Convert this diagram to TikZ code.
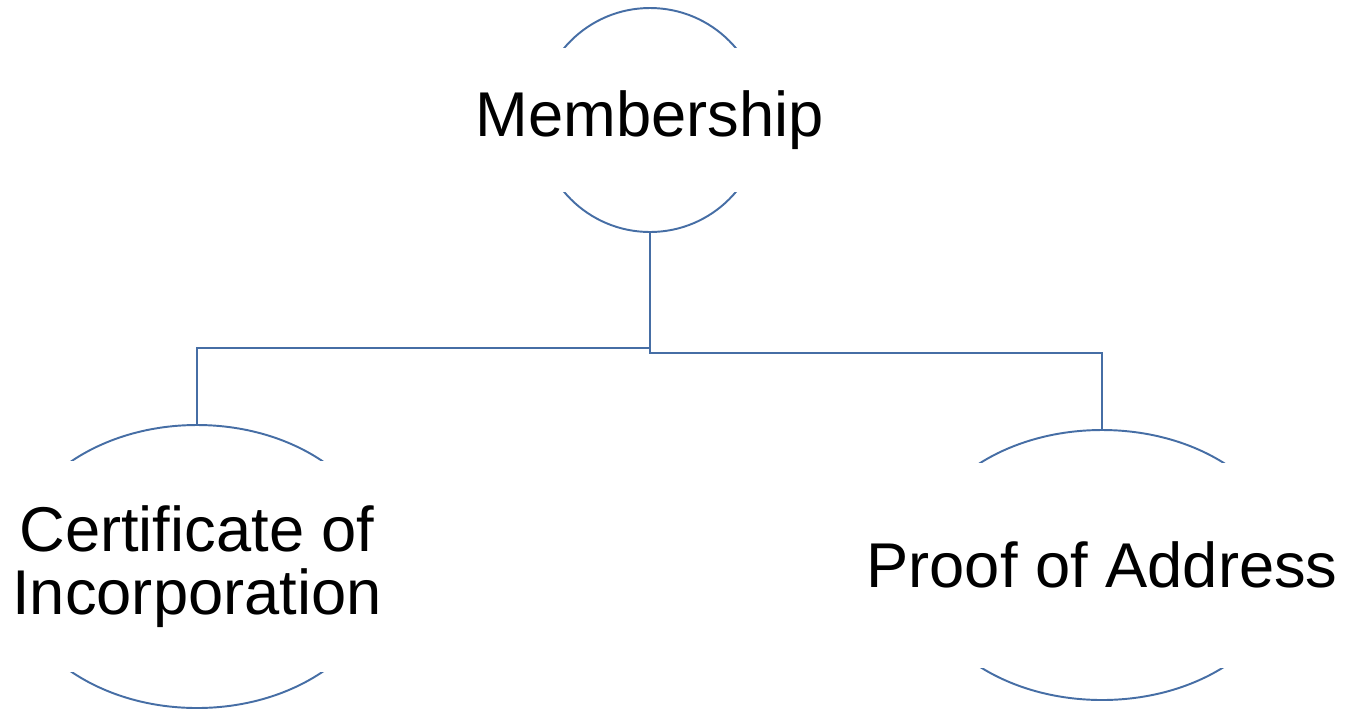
\documentclass[tikz,border=0pt]{standalone}
\usepackage{fontspec}
\setmainfont{Liberation Sans}
\usepackage{tikz}
\usetikzlibrary{shapes.geometric, arrows, positioning, calc}
\definecolor{linkblue}{RGB}{70,110,165}
\tikzstyle{bubble} = [ellipse, draw=linkblue, line width=1.1pt, fill=white, inner sep=0pt]
\tikzstyle{caption} = [rectangle, fill=white, inner sep=0pt, text centered, align=center, font=\fontsize{36}{36}\selectfont]
\tikzstyle{link} = [draw=linkblue, line width=1.1pt]

\begin{document}
\begin{tikzpicture}
    \useasboundingbox (0,0) rectangle (27.02,-14.22);

    % Top item
    \node[bubble, minimum width=4.48cm, minimum height=4.48cm] (member) at (13,-2.4) {};
    \node[caption, minimum width=5cm, minimum height=2.88cm] (memberText) at (member) {Membership};

    % Lower items
    \node[bubble, minimum width=7.52cm, minimum height=5.66cm] (cert) at (3.94,-11.33) {};
    \node[caption, minimum width=7.8cm, minimum height=4.22cm] (certText) at (cert) {Certificate of\\Incorporation};

    \node[bubble, minimum width=7.44cm, minimum height=5.4cm] (proof) at (22.04,-11.3) {};
    \node[caption, minimum width=7.7cm, minimum height=4.1cm] (proofText) at (proof) {Proof of Address};

    % Connections
    \draw[link] (member.south) -- ++(0,-2.3) -| (cert.north);
    \draw[link] (member.south) -- ++(0,-2.4) -| (proof.north);
\end{tikzpicture}
\end{document}
